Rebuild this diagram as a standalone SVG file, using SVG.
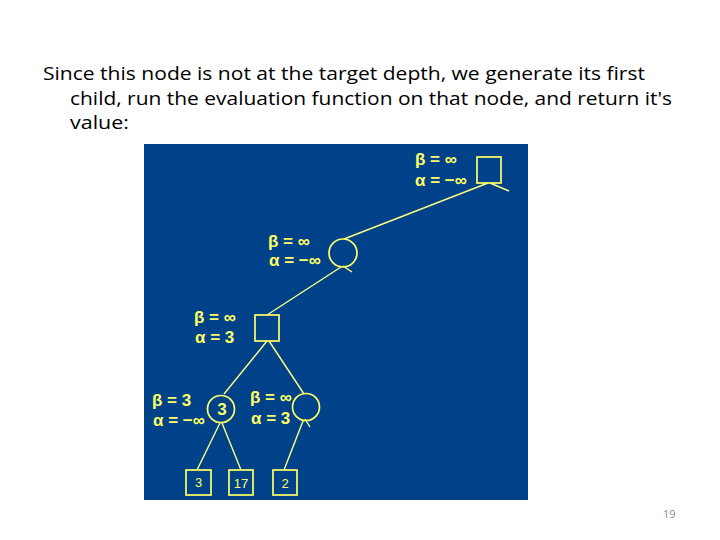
<svg xmlns="http://www.w3.org/2000/svg" width="720" height="540" viewBox="0 0 720 540">
<style>
.hdr{font-family:"Open Sans","Liberation Sans",sans-serif;font-size:19px;fill:#000}
.lbl{font-family:"Liberation Sans",Arial,sans-serif;font-size:17px;font-weight:bold;fill:#FFFF66}
.val{font-family:"Liberation Sans",Arial,sans-serif;font-size:13px;fill:#FFFF66}
.nd{fill:none;stroke:#FFFF66;stroke-width:1.7}
.edge{stroke:#FFFF80;stroke-width:1.4;fill:none}
</style>
<rect width="720" height="540" fill="#fff"/>
<g id="heading">
<text class="hdr" x="43" y="80" textLength="602" lengthAdjust="spacingAndGlyphs">Since this node is not at the target depth, we generate its first</text>
<text class="hdr" x="70" y="105" textLength="602" lengthAdjust="spacingAndGlyphs">child, run the evaluation function on that node, and return it's</text>
<text class="hdr" x="70" y="129" textLength="59" lengthAdjust="spacingAndGlyphs">value:</text>
</g>
<rect id="panel" x="144" y="144" width="384" height="356" fill="#00428A"/>
<g id="connectors">
<line class="edge" x1="488" y1="183" x2="344" y2="239"/>
<line class="edge" x1="490" y1="183" x2="509" y2="191"/>
<line class="edge" x1="341" y1="267" x2="267" y2="315"/>
<line class="edge" x1="343" y1="266" x2="352" y2="272"/>
<line class="edge" x1="267" y1="341" x2="224" y2="394"/>
<line class="edge" x1="269" y1="341" x2="304" y2="394"/>
<line class="edge" x1="220" y1="423" x2="197" y2="470"/>
<line class="edge" x1="222" y1="423" x2="241" y2="470"/>
<line class="edge" x1="303" y1="421" x2="284" y2="470"/>
<line class="edge" x1="305" y1="419" x2="310" y2="427"/>
</g>
<g id="root">
<rect class="nd" x="477" y="157" width="24" height="26"/>
<text class="lbl" x="415" y="165">β = ∞</text>
<text class="lbl" x="415" y="186">α = −∞</text>
</g>
<g id="min1">
<circle class="nd" cx="343" cy="253" r="14"/>
<text class="lbl" x="268" y="247">β = ∞</text>
<text class="lbl" x="269" y="266">α = −∞</text>
</g>
<g id="max2">
<rect class="nd" x="255" y="315" width="24" height="26"/>
<text class="lbl" x="194" y="323">β = ∞</text>
<text class="lbl" x="195" y="343">α = 3</text>
</g>
<g id="min3a">
<circle class="nd" cx="221" cy="409" r="13.5"/>
<text class="lbl" x="222" y="415" text-anchor="middle">3</text>
<text class="lbl" x="152" y="406">β = 3</text>
<text class="lbl" x="153" y="426">α = −∞</text>
</g>
<g id="min3b">
<circle class="nd" cx="306" cy="407" r="13.5"/>
<text class="lbl" x="250" y="403">β = ∞</text>
<text class="lbl" x="251" y="424">α = 3</text>
</g>
<g id="leaf3">
<rect class="nd" x="186" y="470" width="25" height="25"/>
<text class="val" x="198.5" y="487" text-anchor="middle">3</text>
</g>
<g id="leaf17">
<rect class="nd" x="229" y="470" width="24" height="25"/>
<text class="val" x="241" y="488" text-anchor="middle">17</text>
</g>
<g id="leaf2">
<rect class="nd" x="273" y="470" width="24" height="25"/>
<text class="val" x="285" y="488" text-anchor="middle">2</text>
</g>
<text id="page" x="663" y="518" font-family="'Open Sans','Liberation Sans',sans-serif" font-size="11" fill="#8c8c8c">19</text>
</svg>
